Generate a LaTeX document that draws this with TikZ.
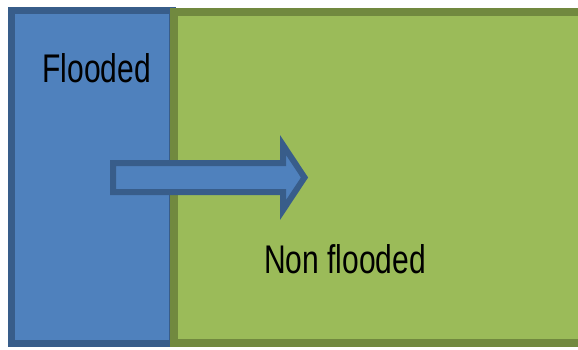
\documentclass[tikz,border=0pt]{standalone}
\usepackage{fontspec}
\setmainfont{Liberation Sans}
\definecolor{bfill}{HTML}{4F81BD}
\definecolor{bline}{HTML}{385D8A}
\definecolor{gfill}{HTML}{9BBB59}
\definecolor{gline}{HTML}{71893F}
\newcommand{\narrowtext}[1]{\scalebox{0.75}[1]{\fontsize{40}{44}\selectfont #1}}
\tikzset{
  bluebox/.style={fill=bfill, draw=bline, line width=7pt},
  greenbox/.style={fill=gfill, draw=gline, line width=8pt},
  arrowshape/.style={fill=bfill, draw=bline, line width=6pt, line join=miter},
  label/.style={text=black, inner sep=0pt}
}
\begin{document}
\begin{tikzpicture}[x=1pt,y=-1pt]
\fill[white] (0,0) rectangle (578,349);
\useasboundingbox (0,0) rectangle (578,349);
\draw[bluebox] (11.5,10.5) rectangle (172,343);
\draw[greenbox] (173.5,11.5) rectangle (590,343);
\draw[arrowshape] (113,163) -- (283,163) -- (283,145) -- (304.5,177.5) -- (283,210) -- (283,192) -- (113,192) -- cycle;
\node[label, anchor=base] (flooded) at (96.7,82.3) {\narrowtext{Flooded}};
\node[label, anchor=base] (nonflooded) at (345,273.3) {\narrowtext{Non flooded}};
\end{tikzpicture}
\end{document}
